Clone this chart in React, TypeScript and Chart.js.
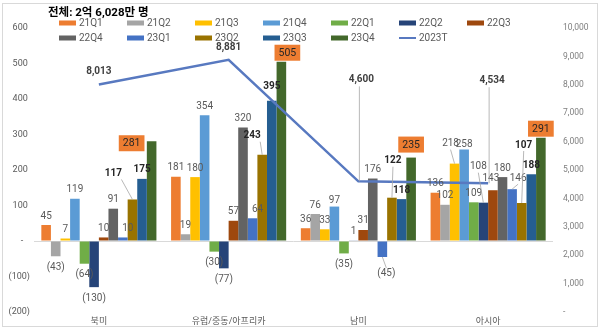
import React, { useEffect, useRef } from 'react';
import { Chart, registerables } from 'chart.js';

Chart.register(...registerables);

const chartTitle = '전체: 2억 6,028만 명';
const categories = ['북미', '유럽/중동/아프리카', '남미', '아시아'];
const seriesNames = ['21Q1', '21Q2', '21Q3', '21Q4', '22Q1', '22Q2', '22Q3', '22Q4', '23Q1', '23Q2', '23Q3', '23Q4'];
const s21Q1 = [45, 181, 36, 136];
const s21Q2 = [-43, 19, 76, 102];
const s21Q3 = [7, 180, 33, 218];
const s21Q4 = [119, 354, 97, 258];
const s22Q1 = [-64, -30, -35, 109];
const s22Q2 = [-130, -77, 1, 108];
const s22Q3 = [10, 57, 31, 143];
const s22Q4 = [91, 320, 176, 180];
const s23Q1 = [10, 64, -45, 146];
const s23Q2 = [117, 243, 122, 107];
const s23Q3 = [175, 395, 118, 188];
const s23Q4 = [281, 505, 235, 291];
const lineName = '2023T';
const total2023T = [8013, 8881, 4600, 4534];
const leftTicks = [-200, -100, 0, 100, 200, 300, 400, 500, 600];
const rightTicks = [0, 1000, 2000, 3000, 4000, 5000, 6000, 7000, 8000, 9000, 10000];

const seriesValues = [s21Q1, s21Q2, s21Q3, s21Q4, s22Q1, s22Q2, s22Q3, s22Q4, s23Q1, s23Q2, s23Q3, s23Q4];
const seriesColors = ['#ED7D31', '#A5A5A5', '#FFC000', '#5B9BD5', '#70AD47', '#264478', '#9E480E', '#636363', '#4472C4', '#997300', '#255E91', '#43682B'];
const lineColor = '#5879C0';
const FONT = 'Roboto, "Noto Sans CJK KR", "Noto Sans", sans-serif';

// label style offsets: key `${series}-${category}` -> [dx, dy, leader]
const labelOffsets: Record<string, [number, number, boolean]> = {
  '9-0': [-19, -17, true],
  '11-0': [-20, 11, false],
  '8-0': [5, 0, false],
  '9-1': [-10, -10, true],
  '10-1': [0, -5, false],
  '11-1': [6, 0, false],
  '8-1': [5, 0, false],
  '3-2': [0, 3, false],
  '8-2': [4, 6, true],
  '9-2': [1, -28, true],
  '11-2': [0, -4, false],
  '2-3': [-4, -11, true],
  '3-3': [0, 4, false],
  '5-3': [-5, -27, true],
  '6-3': [-2, -3, false],
  '8-3': [6, -2, true],
  '9-3': [2, -49, true],
};
const lineLabelOffsets: Array<[number, number, boolean]> = [
  [0, -13, false],
  [0, -12, false],
  [3, -102, true],
  [4, -103, true],
];

const fmtLeft = (v: number) => (v === 0 ? '-   ' : v < 0 ? `(${-v})` : `${v} `);
const fmtRight = (v: number) => (v === 0 ? '-' : v.toLocaleString('en-US'));

const overlayPlugin = {
  id: 'overlay',
  afterDatasetsDraw(chart: any) {
    const ctx = chart.ctx;
    ctx.save();
    ctx.textBaseline = 'middle';
    ctx.textAlign = 'center';
    // bar labels
    for (let s = 0; s < seriesValues.length; s++) {
      const meta = chart.getDatasetMeta(s);
      meta.data.forEach((el: any, i: number) => {
        const v = seriesValues[s][i];
        const txt = v < 0 ? `(${-v})` : `${v}`;
        const off = labelOffsets[`${s}-${i}`] || [0, 0, false];
        const bx = el.x;
        const by = el.y;
        const x = bx + off[0];
        const y = v < 0 ? by + 11 + off[1] : by - 9 + off[1];
        if (off[2]) {
          ctx.strokeStyle = '#A6A6A6';
          ctx.lineWidth = 0.8;
          ctx.beginPath();
          ctx.moveTo(x + (off[0] < -6 ? 8 : 0), v < 0 ? y - 6 : y + 6);
          ctx.lineTo(bx, by);
          ctx.stroke();
        }
        if (s === 11) {
          ctx.font = `10.5px ${FONT}`;
          const w = ctx.measureText(txt).width + 8;
          ctx.fillStyle = '#ED7D31';
          ctx.fillRect(x - w / 2, y - 8, w, 16);
          ctx.fillStyle = '#262626';
          ctx.fillText(txt, x, y + 0.5);
        } else if (s === 9 || s === 10) {
          ctx.font = `bold 10px ${FONT}`;
          ctx.fillStyle = '#262626';
          ctx.fillText(txt, x, y);
        } else {
          ctx.font = `10px ${FONT}`;
          ctx.fillStyle = '#595959';
          ctx.fillText(txt, x, y);
        }
      });
    }
    // line labels
    const lmeta = chart.getDatasetMeta(seriesValues.length);
    lmeta.data.forEach((pt: any, i: number) => {
      const off = lineLabelOffsets[i];
      const x = pt.x + off[0];
      const y = pt.y + off[1];
      if (off[2]) {
        ctx.strokeStyle = '#A6A6A6';
        ctx.lineWidth = 0.8;
        ctx.beginPath();
        ctx.moveTo(pt.x + 1, y + 7);
        ctx.lineTo(pt.x + 1, pt.y);
        ctx.stroke();
      }
      ctx.font = `bold 10px ${FONT}`;
      ctx.fillStyle = '#404040';
      ctx.fillText(total2023T[i].toLocaleString('en-US'), x, y);
    });
    ctx.restore();
  },
  afterDraw(chart: any) {
    const ctx = chart.ctx;
    ctx.save();
    // frame
    ctx.strokeStyle = '#D9D9D9';
    ctx.lineWidth = 1;
    ctx.strokeRect(2.5, 3.5, 595, 323);
    // title
    ctx.font = `bold 11.5px ${FONT}`;
    ctx.fillStyle = '#000000';
    ctx.textAlign = 'left';
    ctx.textBaseline = 'middle';
    ctx.fillText(chartTitle, 48, 13);
    // legend
    const items = [...seriesNames.map((n, i) => ({ n, c: seriesColors[i], line: false })), { n: lineName, c: lineColor, line: true }];
    ctx.font = `10px ${FONT}`;
    items.forEach((it, k) => {
      const col = k % 7;
      const row = Math.floor(k / 7);
      const x0 = 59 + 68 * col;
      const y0 = row === 0 ? 23 : 38;
      ctx.fillStyle = it.c;
      if (it.line) {
        ctx.fillRect(x0, y0 - 1, 17, 2);
      } else {
        ctx.fillRect(x0, y0 - 2.5, 17, 5);
      }
      ctx.fillStyle = '#595959';
      ctx.fillText(it.n, x0 + 20, y0);
    });
    ctx.restore();
  },
};

export default function App() {
  const ref = useRef<HTMLCanvasElement>(null);
  useEffect(() => {
    if (!ref.current) return;
    const datasets: any[] = seriesValues.map((vals, i) => ({
      type: 'bar',
      label: seriesNames[i],
      data: vals,
      backgroundColor: seriesColors[i],
      yAxisID: 'y',
      order: 1,
      categoryPercentage: 0.887,
      barPercentage: 1.0,
    }));
    datasets.push({
      type: 'line',
      label: lineName,
      data: total2023T,
      borderColor: lineColor,
      borderWidth: 2.5,
      pointRadius: 0,
      yAxisID: 'y1',
      order: 0,
      tension: 0,
    });
    const chart = new Chart(ref.current, {
      type: 'bar',
      data: { labels: categories, datasets },
      options: {
        animation: false,
        responsive: false,
        devicePixelRatio: 1,
        layout: { padding: { top: 28, left: 0, right: 0, bottom: 0 } },
        plugins: { legend: { display: false }, tooltip: { enabled: false }, title: { display: false } },
        scales: {
          x: {
            grid: { display: false, drawTicks: false },
            border: { display: false },
            ticks: { font: { size: 9, family: FONT }, color: '#595959', padding: 4, maxRotation: 0 },
            afterFit: (s: any) => { s.height = 18; },
          },
          y: {
            position: 'left',
            min: leftTicks[0],
            max: leftTicks[leftTicks.length - 1],
            afterBuildTicks: (s: any) => { s.ticks = leftTicks.map((v) => ({ value: v })); },
            grid: {
              drawTicks: false,
              color: (c: any) => (c.tick && c.tick.value === 0 ? '#D9D9D9' : 'rgba(0,0,0,0)'),
              lineWidth: 1,
            },
            border: { display: false },
            ticks: { callback: (v: any) => fmtLeft(Number(v)), font: { size: 9, family: FONT }, color: '#595959', padding: 4 },
            afterFit: (s: any) => { s.width = 34; },
          },
          y1: {
            position: 'right',
            min: rightTicks[0],
            max: rightTicks[rightTicks.length - 1],
            afterBuildTicks: (s: any) => { s.ticks = rightTicks.map((v) => ({ value: v })); },
            grid: { display: false, drawTicks: false },
            border: { display: false },
            ticks: { callback: (v: any) => fmtRight(Number(v)), font: { size: 8.5, family: FONT }, color: '#7F7F7F', padding: 10 },
            afterFit: (s: any) => { s.width = 47; },
          },
        },
      },
      plugins: [overlayPlugin],
    } as any);
    return () => chart.destroy();
  }, []);
  return (
    <div style={{ position: 'fixed', left: 0, top: 0, width: 600, height: 330, background: '#fff' }}>
      <canvas ref={ref} width={600} height={330} style={{ width: 600, height: 330, display: 'block' }} />
    </div>
  );
}
